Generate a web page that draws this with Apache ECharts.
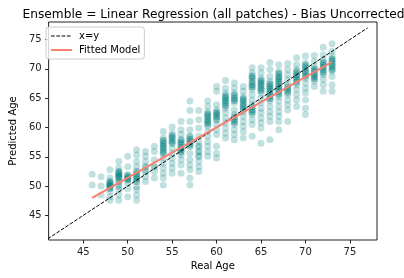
<!DOCTYPE html>
<html>
<head>
<meta charset="utf-8">
<script src="https://cdn.jsdelivr.net/npm/echarts@6/dist/echarts.min.js"></script>
<style>html,body{margin:0;padding:0;background:#fff}#c{width:404px;height:278px}</style>
</head>
<body>
<div id="c"></div>
<script>
// Real ages (x) and predicted ages per real age (y)
var realAges = [46,47,48,49,50,51,52,53,54,55,56,57,58,59,60,61,62,63,64,65,66,67,68,69,70,71,72,73];
var predictedByAge = [
  [52.0, 50.2],
  [51.6, 50.0, 48.5],
  [52.8, 51.4, 50.8, 50.5, 50.2, 50.0, 49.9, 49.6, 49.1, 48.2, 47.6],
  [54.2, 53.1, 52.5, 52.2, 51.9, 51.6, 51.4, 50.8, 50.2, 49.9, 49.4, 48.5, 47.6],
  [55.1, 53.3, 51.9, 51.6, 51.3, 51.1, 50.5, 49.6, 48.2],
  [56.2, 55.3, 54.2, 53.3, 52.5, 52.0, 51.6, 51.2, 50.8, 49.9, 49.4, 48.5, 47.6],
  [55.9, 55.1, 54.2, 53.3, 52.5, 51.6, 50.8],
  [56.8, 55.9, 54.5, 53.3, 52.5, 51.4],
  [59.3, 58.2, 57.8, 57.3, 56.9, 56.5, 56.0, 55.6, 54.8, 53.9, 53.1, 52.2, 51.4, 50.2],
  [60.1, 59.0, 58.6, 58.2, 57.7, 57.3, 56.5, 55.6, 54.8, 53.9, 53.1, 52.2],
  [61.0, 59.6, 58.8, 57.9, 57.5, 57.1, 56.6, 56.2, 55.8, 55.3, 54.5, 53.6, 52.2],
  [64.5, 62.9, 61.0, 59.6, 58.5, 58.0, 57.6, 57.2, 56.8, 55.6, 54.5, 53.6, 52.8, 51.4, 50.2],
  [62.9, 61.3, 59.9, 58.5, 57.6, 56.8, 55.9, 55.1, 54.2, 53.3, 52.5],
  [64.5, 63.6, 62.7, 62.3, 61.9, 61.4, 61.0, 60.6, 60.2, 59.3, 58.5, 57.6, 56.8, 55.9, 55.1],
  [67.0, 66.2, 63.9, 63.0, 62.6, 62.2, 61.8, 61.3, 60.5, 59.6, 58.8, 56.8, 55.6, 54.8],
  [68.0, 66.7, 65.9, 65.4, 65.0, 64.6, 64.2, 63.7, 63.3, 62.5, 61.6, 60.8, 59.9, 59.0, 58.2],
  [67.6, 66.7, 65.9, 65.5, 65.0, 64.6, 64.2, 63.0, 62.2, 61.8, 61.3, 60.9, 60.5, 59.6, 58.8, 57.9],
  [67.0, 66.2, 65.3, 64.9, 64.5, 64.0, 63.6, 63.1, 62.7, 61.9, 61.0, 60.2, 59.3, 58.2],
  [70.2, 69.3, 68.8, 68.4, 67.8, 67.3, 66.9, 66.5, 65.6, 64.7, 63.9, 63.5, 63.0, 62.6, 62.2, 61.3, 60.5, 58.5],
  [70.2, 69.3, 68.4, 68.0, 67.6, 67.2, 66.7, 66.3, 65.9, 65.0, 64.2, 63.3, 62.5, 61.6, 60.8, 59.9, 57.3],
  [71.1, 69.9, 68.7, 67.9, 67.4, 67.0, 66.6, 66.2, 65.7, 65.3, 64.9, 64.5, 63.6, 62.7, 61.9, 61.0, 57.9],
  [70.7, 69.6, 69.2, 68.7, 68.3, 67.9, 67.4, 67.0, 66.6, 66.2, 65.7, 65.3, 64.5, 63.6, 62.7, 61.9, 61.0, 59.6],
  [70.9, 69.9, 69.0, 68.2, 67.3, 66.9, 66.5, 66.0, 65.6, 64.7, 63.9, 63.0, 61.0],
  [71.9, 70.7, 69.9, 69.5, 69.0, 68.6, 68.2, 67.7, 67.3, 66.5, 65.6, 64.7, 63.6],
  [72.2, 71.0, 70.6, 70.2, 69.7, 69.3, 68.8, 68.4, 67.6, 66.7, 65.9, 64.7, 63.3, 62.2],
  [72.3, 71.3, 70.4, 70.0, 69.6, 69.1, 68.7, 68.3, 67.9, 67.0],
  [73.7, 72.4, 71.6, 71.1, 70.7, 70.3, 69.9, 69.4, 69.0, 68.2, 67.3, 66.2],
  [74.3, 73.0, 72.2, 71.7, 71.3, 70.8, 70.4, 69.9, 69.6, 68.7, 67.3, 66.2]
];
// Predicted values that occur again (dense, darker cores of each column)
var repeatedByAge = [
  [],
  [],
  [50.8, 50.5, 50.2, 50.0, 49.6],
  [52.5, 52.2, 51.9, 51.6, 51.4, 50.8],
  [51.9, 51.6, 51.3, 51.1],
  [52.5, 52.0, 51.6, 51.2, 50.8],
  [53.3, 52.5],
  [53.3],
  [57.8, 57.3, 56.9, 56.5, 56.0, 55.6],
  [58.6, 58.2, 57.7, 57.3],
  [57.9, 57.5, 57.1, 56.6, 56.2, 55.8],
  [58.5, 58.0, 57.6, 57.2, 56.8],
  [56.8, 55.9, 55.1],
  [62.3, 61.9, 61.4, 61.0, 60.6],
  [62.6, 62.2, 61.8, 61.3],
  [65.4, 65.0, 64.6, 64.2, 63.7],
  [65.5, 65.0, 64.6, 61.8, 61.3, 60.9],
  [64.9, 64.5, 64.0, 63.6, 63.1],
  [68.8, 68.4, 67.8, 67.3, 66.9, 63.5, 63.0, 62.6],
  [68.0, 67.6, 67.2, 66.7, 66.3],
  [67.4, 67.0, 66.6, 66.2, 65.7, 65.3, 64.9],
  [69.2, 68.7, 68.3, 67.9, 67.4, 67.0, 66.6, 66.2, 65.7],
  [66.9, 66.5, 66.0],
  [69.5, 69.0, 68.6, 68.2, 67.7],
  [70.6, 70.2, 69.7, 69.3, 68.8],
  [70.0, 69.6, 69.1, 68.7, 68.3],
  [71.1, 70.7, 70.3, 69.9, 69.4],
  [71.7, 71.3, 70.8, 70.4, 69.9]
];
var identityLine = [41, 77];
var fittedX = [46, 73];
var fittedY = [48.0, 71.2];
var xTicks = [45, 50, 55, 60, 65, 70, 75];
var yTicks = [45, 50, 55, 60, 65, 70, 75];
var xRange = [41.1, 78.05];
var yRange = [40.8, 78.0];

var scatterData = [];
realAges.forEach(function (a, i) {
  predictedByAge[i].forEach(function (p) { scatterData.push([a, p]); });
  repeatedByAge[i].forEach(function (p) { scatterData.push([a, p]); });
});
var idData = identityLine.map(function (v) { return [v, v]; });
var fitData = fittedX.map(function (x, i) { return [x, fittedY[i]]; });

var font = 'DejaVu Sans';
var idStyle = {color: '#000', width: 1, type: [3.7, 1.6]};
var fitStyle = {color: '#fa8072', width: 2};
var chart = echarts.init(document.getElementById('c'), null, {renderer: 'canvas'});
chart.setOption({
  animation: false,
  backgroundColor: '#fff',
  title: {
    text: 'Ensemble = Linear Regression (all patches) - Bias Uncorrected',
    left: 17.5, top: 4,
    textStyle: {fontFamily: font, fontSize: 12.2, fontWeight: 'normal', color: '#000'}
  },
  grid: {left: 41, right: 27, top: 22, bottom: 38, show: true, borderColor: '#222', borderWidth: 1, backgroundColor: 'transparent'},
  legend: {
    left: 46, top: 27, orient: 'vertical',
    data: [
      {name: 'x=y', lineStyle: idStyle},
      {name: 'Fitted Model', lineStyle: fitStyle}
    ],
    itemWidth: 21, itemHeight: 10, itemGap: 4,
    padding: [4, 4, 4, 4],
    borderColor: '#ccc', borderWidth: 1, borderRadius: 3,
    backgroundColor: 'rgba(255,255,255,0.8)',
    textStyle: {fontFamily: font, fontSize: 10, color: '#000', padding: [0, 0, 0, 2]}
  },
  xAxis: {
    type: 'value', min: xRange[0], max: xRange[1],
    name: 'Real Age', nameLocation: 'middle', nameGap: 21,
    nameTextStyle: {fontFamily: font, fontSize: 10, color: '#000'},
    axisLine: {show: false},
    axisTick: {show: true, length: 3.5, lineStyle: {color: '#222'}, customValues: xTicks},
    axisLabel: {fontFamily: font, fontSize: 10, color: '#222', margin: 7, customValues: xTicks},
    splitLine: {show: false}
  },
  yAxis: {
    type: 'value', min: yRange[0], max: yRange[1],
    name: 'Predicted Age', nameLocation: 'middle', nameGap: 29, nameRotate: 90,
    nameTextStyle: {fontFamily: font, fontSize: 10, color: '#000'},
    axisLine: {show: false},
    axisTick: {show: true, length: 3.5, lineStyle: {color: '#222'}, customValues: yTicks},
    axisLabel: {fontFamily: font, fontSize: 10, color: '#222', margin: 7, customValues: yTicks},
    splitLine: {show: false}
  },
  series: [
    {
      type: 'scatter', name: 'points', data: scatterData, symbolSize: 7, z: 1,
      itemStyle: {color: 'rgba(0,128,128,0.3)', borderWidth: 0}
    },
    {
      type: 'line', name: 'x=y', data: idData, symbol: 'none', z: 3,
      itemStyle: {color: 'rgba(0,0,0,0)', borderWidth: 0},
      lineStyle: idStyle
    },
    {
      type: 'line', name: 'Fitted Model', data: fitData, symbol: 'none', z: 4,
      itemStyle: {color: 'rgba(0,0,0,0)', borderWidth: 0},
      lineStyle: fitStyle
    }
  ]
});
</script>
</body>
</html>
